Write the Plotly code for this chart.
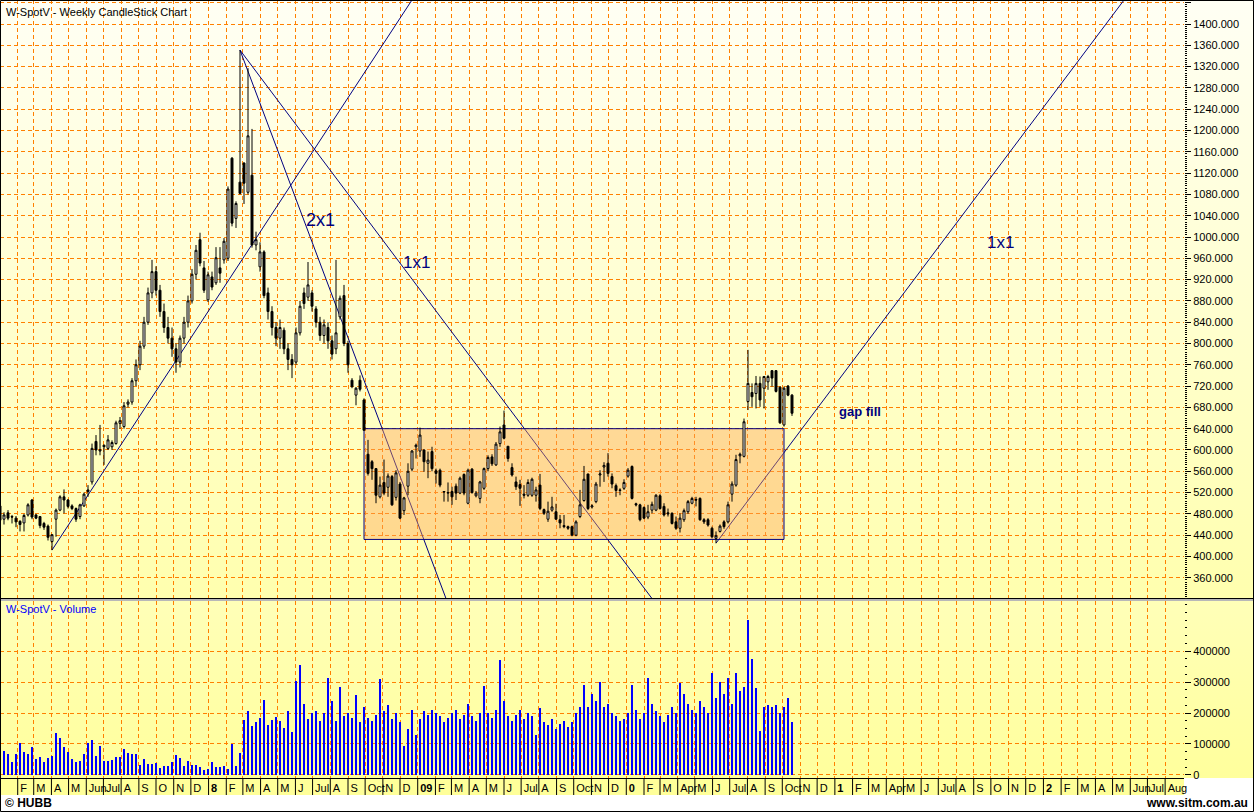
import base64
import pandas as pd
import plotly.graph_objects as go

# ---------------- DATA ----------------
open_ = [495,470,482,475,472,466,463,478,506,478,475,462,457,428,470,487,512,506,495,490,
         475,495,522,540,616,598,609,603,606,612,650,644,686,690,730,760,795,840,895,935,
         900,860,830,810,790,765,810,840,880,930,995,942,882,925,914,942,957,960,1148,1035,
         1103,1139,1084,1116,985,944,972,895,860,830,810,825,790,770,765,820,895,887,895,865,
         840,815,830,805,790,850,890,800,731,703,731,694,592,578,565,512,539,530,550,511,
         536,486,532,564,606,598,600,575,597,561,562,521,519,522,532,519,554,500,564,514,
         509,528,565,587,572,612,647,607,567,540,535,517,515,515,515,534,488,470,487,484,
         469,458,456,456,440,475,505,555,493,503,553,568,575,550,533,525,528,551,569,499,
         497,492,474,487,487,514,494,482,481,465,453,469,484,500,507,509,469,469,453,434,
         447,465,465,517,534,589,588,691,708,706,725,716,728,749,749,718,647,720,703]
high = [500,483,487,478,476,468,480,500,508,480,476,465,460,441,490,515,526,508,498,492,
        499,520,534,612,628,647,610,628,618,655,662,690,695,735,770,805,850,905,957,945,
        910,875,850,830,800,815,850,890,940,985,1008,955,935,935,981,981,998,1095,1150,1067,
        1351,1140,1317,1203,1010,990,975,905,870,840,845,830,800,780,830,880,905,953,900,870,
        850,845,840,815,957,890,910,805,735,718,740,697,619,581,566,550,582,556,553,562,
        540,512,575,600,612,642,601,597,606,565,565,522,539,531,537,550,556,565,566,523,
        542,567,590,592,615,644,674,607,575,550,544,534,545,548,531,555,490,503,512,499,
        478,478,458,458,468,525,570,555,498,540,562,577,594,556,537,528,545,566,571,501,
        499,494,497,503,517,517,500,490,483,475,481,490,506,512,512,511,472,472,456,447,
        460,468,503,541,591,595,659,788,725,739,738,739,741,750,750,719,719,722,705]
low = [460,460,468,462,455,447,447,475,470,470,453,450,430,412,437,485,481,490,487,465,
       470,493,512,535,590,590,572,600,600,610,640,640,680,685,720,750,790,835,885,890,
       850,820,800,775,745,755,800,830,875,920,945,895,878,900,910,914,950,955,1020,1017,
       1080,1062,1080,980,975,935,885,845,815,795,790,780,750,735,760,815,865,880,860,830,
       805,800,790,770,780,845,795,745,716,684,710,637,552,544,500,509,515,512,495,505,
       470,478,515,560,584,587,559,547,560,537,530,503,503,497,506,517,515,498,518,511,
       500,525,560,570,570,606,620,578,550,525,495,509,512,512,503,487,478,465,484,469,
       453,453,450,438,438,472,503,487,490,500,531,540,550,528,512,515,525,548,507,494,
       466,470,470,481,485,488,475,475,460,450,445,465,480,498,494,467,461,456,434,425,
       445,452,462,503,531,575,586,675,681,678,681,678,713,719,708,649,644,701,664]
close = [468,478,472,474,465,460,477,497,474,472,458,455,436,441,487,512,506,494,490,470,
         497,517,525,603,600,600,606,619,614,651,655,683,690,730,760,795,840,895,935,900,
         860,830,810,790,765,810,840,880,930,975,951,900,929,906,961,932,992,1090,1026,1063,
         1082,1101,1190,985,995,972,890,860,830,810,830,790,770,760,820,870,875,910,870,840,
         815,835,805,780,820,885,800,760,719,716,714,637,556,565,515,534,519,551,497,557,
         472,510,560,598,609,628,578,581,565,556,534,522,520,512,519,547,519,562,520,519,
         540,565,586,574,611,634,622,584,553,531,528,515,539,545,525,490,481,485,493,470,
         463,456,453,440,465,497,545,490,495,536,555,571,556,536,524,524,539,562,509,497,
         469,472,484,498,515,490,478,480,462,453,472,486,503,509,506,469,465,459,437,439,
         457,456,497,536,582,592,653,725,700,725,694,738,738,735,710,651,716,703,669]
volume = [80,77,68,42,68,103,74,68,90,52,58,42,55,61,135,119,90,74,52,42,
          45,68,103,113,61,94,45,45,48,58,58,84,71,68,68,32,52,35,35,39,
          23,29,29,42,65,55,29,45,32,32,26,16,19,42,26,26,29,19,100,29,
          71,177,206,158,171,184,242,161,177,187,174,152,206,139,303,355,230,180,200,205,
          175,200,313,240,175,284,190,200,185,258,170,220,185,175,195,310,205,225,180,200,
          170,95,150,210,130,180,205,195,210,200,190,170,185,200,210,180,195,230,190,175,
          200,287,200,185,210,371,240,190,175,195,210,180,200,190,130,215,170,160,180,150,
          165,175,155,170,200,220,290,220,260,240,300,220,230,200,190,175,180,200,290,210,
          180,200,313,230,205,190,170,195,220,200,297,260,230,210,200,240,220,200,329,250,
          300,260,313,230,329,270,284,500,374,280,142,220,225,220,225,200,220,250,171]
volume = [v * 1000 for v in volume]
first_week = "2007-01-01"
dates = pd.date_range(first_week, periods=len(close), freq="7D")

# month tick labels (Feb 2007 .. Aug 2012)
tick_labels = ["F","M","A","M","Jun","Jul","A","S","O","N","D",
               "<b>8</b>","F","M","A","M","J","Jul","A","S","Oct","N","D",
               "<b>09</b>","F","M","A","M","J","Jul","A","S","Oct","N","D",
               "<b>0</b>","F","M","Apr","M","J","Jul","A","S","Oct","N","D",
               "<b>1</b>","F","M","Apr","M","J","Jul","A","S","O","N","D",
               "<b>2</b>","F","M","A","M","Jun","Jul","Aug"]
tick_dates = pd.date_range("2007-02-01", periods=len(tick_labels), freq="MS")

# Gann lines: start date, start price, length in weeks, slope (price per week)
gann_start_dates = ["2007-04-02", "2008-02-25", "2008-02-25", "2010-06-07"]
gann_start_prices = [412, 1351, 1351, 425]
gann_weeks = [100, 110, 60, 110]
gann_slopes = [11.48, -10, -20, 10]

box_dates = ["2008-09-29", "2010-10-04"]
box_prices = [432, 640]

price_ticks_dtick = 40
vol_ticks = [0, 100000, 200000, 300000, 400000]

# ---------------- LAYOUT HELPERS ----------------
W, H = 1254, 812
ML, MR, MT, MB = 0, 70, 0, 34
PW, PH = W - ML - MR, H - MT - MB
def pxx(p): return (p - ML) / PW
def pxy(p): return (H - MB - p) / PH

def grad(top, bottom):
    svg = ('<svg xmlns="http://www.w3.org/2000/svg" width="10" height="100" viewBox="0 0 10 100" '
           'preserveAspectRatio="none"><defs><linearGradient id="g" x1="0" y1="0" x2="0" y2="1">'
           f'<stop offset="0" stop-color="{top}"/><stop offset="1" stop-color="{bottom}"/>'
           '</linearGradient></defs><rect width="10" height="100" fill="url(#g)"/></svg>')
    return "data:image/svg+xml;base64," + base64.b64encode(svg.encode()).decode()

ORANGE = "#FF8000"
NAVY = "#000080"
FONT = "Liberation Sans"

fig = go.Figure()
fig.add_trace(go.Candlestick(
    x=dates, open=open_, high=high, low=low, close=close,
    increasing=dict(line=dict(color="black", width=1), fillcolor="white"),
    decreasing=dict(line=dict(color="black", width=1), fillcolor="black"),
    whiskerwidth=0, xaxis="x", yaxis="y", showlegend=False, hoverinfo="skip"))
fig.add_trace(go.Bar(
    x=dates, y=volume, marker=dict(color="#0000FF", line=dict(width=0)),
    width=3.5 * 86400000, xaxis="x2", yaxis="y2", showlegend=False, hoverinfo="skip"))

shapes = []
for d, p, wk, s in zip(gann_start_dates, gann_start_prices, gann_weeks, gann_slopes):
    d0 = pd.Timestamp(d)
    d1 = d0 + pd.Timedelta(weeks=wk)
    shapes.append(dict(type="line", xref="x", yref="y", x0=d0, y0=p, x1=d1, y1=p + s * wk,
                       line=dict(color=NAVY, width=1), layer="between"))
shapes.append(dict(type="rect", xref="x", yref="y", x0=box_dates[0], x1=box_dates[1],
                   y0=box_prices[0], y1=box_prices[1], fillcolor="rgba(255,165,90,0.42)",
                   line=dict(color=NAVY, width=1), layer="between"))
# month separators in the label strip
for td in tick_dates:
    shapes.append(dict(type="line", xref="x2", yref="paper", x0=td, x1=td, y0=pxy(795), y1=pxy(778),
                       line=dict(color="black", width=1)))
shapes += [
    dict(type="rect", xref="paper", yref="paper", x0=pxx(0), x1=pxx(1184), y0=pxy(795), y1=pxy(778),
         fillcolor="#FFFF99", line=dict(width=0), layer="below"),
    dict(type="line", xref="paper", yref="paper", x0=pxx(0), x1=pxx(W), y0=pxy(598.5), y1=pxy(598.5),
         line=dict(color="black", width=1)),
    dict(type="line", xref="paper", yref="paper", x0=pxx(0), x1=pxx(W), y0=pxy(600), y1=pxy(600),
         line=dict(color="#B8B8B8", width=2)),
    dict(type="rect", xref="paper", yref="paper", x0=pxx(0.5), x1=pxx(W - 0.5), y0=pxy(H - 0.5), y1=pxy(0.5),
         line=dict(color="black", width=1), fillcolor="rgba(0,0,0,0)"),
]

images = [
    dict(source=grad("#FFFFF4", "#FFFFAE"), xref="paper", yref="paper", x=pxx(0), y=pxy(0),
         sizex=pxx(W), sizey=pxy(0) - pxy(598), xanchor="left", yanchor="top", sizing="stretch", layer="below"),
    dict(source=grad("#FFFFB8", "#FFFF9C"), xref="paper", yref="paper", x=pxx(0), y=pxy(600),
         sizex=pxx(W), sizey=pxy(600) - pxy(778), xanchor="left", yanchor="top", sizing="stretch", layer="below"),
]

gann_labels = [("2x1", "2008-07-14", 1032, 18, False), ("1x1", "2008-12-29", 953, 17, False),
               ("1x1", "2011-10-17", 989, 17, False), ("gap fill", "2011-02-14", 673, 13, True)]
annotations = []
for t, xd, yp, sz, b in gann_labels:
    annotations.append(dict(text=f"<b>{t}</b>" if b else t, x=xd, y=yp, xref="x", yref="y",
                            showarrow=False, font=dict(family=FONT, size=sz, color=NAVY)))
annotations += [
    dict(text="W-SpotV - Weekly CandleStick Chart", x=pxx(4), y=pxy(12), xref="paper", yref="paper",
         xanchor="left", yanchor="middle", showarrow=False, font=dict(family=FONT, size=11, color="black")),
    dict(text="W-SpotV - Volume", x=pxx(4), y=pxy(609), xref="paper", yref="paper",
         xanchor="left", yanchor="middle", showarrow=False, font=dict(family=FONT, size=11, color="#0000FF")),
    dict(text="<b>© HUBB</b>", x=pxx(3), y=pxy(803), xref="paper", yref="paper",
         xanchor="left", yanchor="middle", showarrow=False, font=dict(family=FONT, size=12, color="black")),
    dict(text="<b>www.sitm.com.au</b>", x=pxx(1250), y=pxy(803), xref="paper", yref="paper",
         xanchor="right", yanchor="middle", showarrow=False, font=dict(family=FONT, size=12, color="black")),
]

xr = ["2007-01-01", "2012-09-03"]
grid = dict(showgrid=True, gridcolor=ORANGE, gridwidth=1, griddash="4px,3px")
fig.update_layout(
    width=W, height=H, margin=dict(l=ML, r=MR, t=MT, b=MB, autoexpand=False),
    paper_bgcolor="white", plot_bgcolor="rgba(0,0,0,0)",
    font=dict(family=FONT, size=11, color="black"),
    bargap=0, showlegend=False,
    xaxis=dict(domain=[0, 1], anchor="y", range=xr, type="date", tickmode="array", tickvals=tick_dates,
               showticklabels=False, ticks="", rangeslider=dict(visible=False), matches="x2",
               zeroline=False, showline=False, **grid),
    yaxis=dict(domain=[pxy(598), 1], anchor="x", side="right", range=[322.0, 1445.1],
               tick0=0, dtick=price_ticks_dtick, tickformat=".3f", ticks="outside", ticklen=6,
               tickcolor="black", zeroline=False, showline=False, automargin=False,
               minor=dict(dtick=4, tick0=0, ticks="outside", ticklen=2, tickcolor="black", showgrid=False),
               **grid),
    xaxis2=dict(domain=[0, 1], anchor="y2", range=xr, type="date", tickmode="array", tickvals=tick_dates,
                ticktext=tick_labels, tickangle=0, ticks="",
                ticklabelposition="outside right", ticklabelshift=2,
                showline=True, linecolor="black", linewidth=1, zeroline=False, automargin=False,
                rangeslider=dict(visible=False), **grid),
    yaxis2=dict(domain=[0, pxy(601)], anchor="x2", side="right", range=[-9700, 561300],
                tickmode="array", tickvals=vol_ticks, tickformat="d", ticks="outside", ticklen=6,
                tickcolor="black", zeroline=False, showline=False, automargin=False,
                minor=dict(tickmode="linear", dtick=25000, tick0=0, ticks="outside", ticklen=2,
                           tickcolor="black", showgrid=False),
                **grid),
    shapes=shapes, images=images, annotations=annotations,
)

fig.write_html("out.html", config={"displayModeBar": False},
               post_script="document.body.style.margin='0';document.body.style.padding='0';")
